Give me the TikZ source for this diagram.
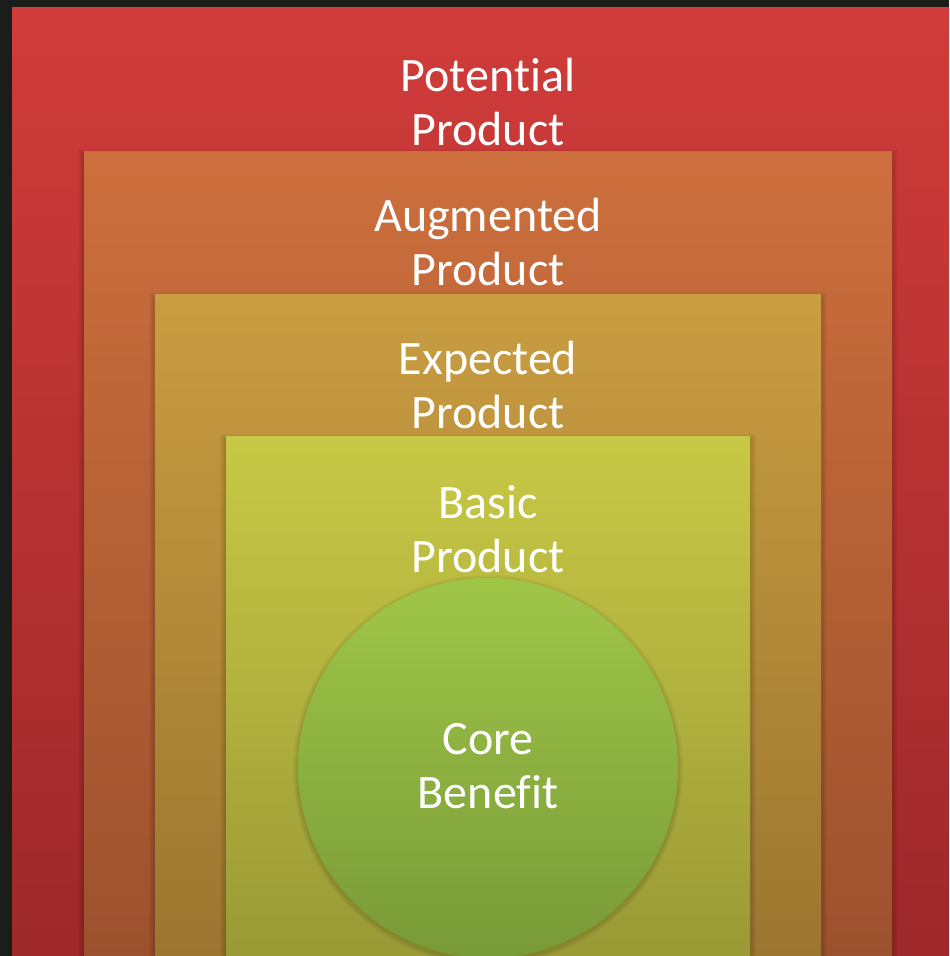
\documentclass[tikz,border=0pt]{standalone}
\usepackage{fontspec}
\setmainfont[Ligatures=NoCommon]{Carlito}
\definecolor{bgdark}{HTML}{1B1D1A}
\definecolor{potTop}{HTML}{D03C3A}
\definecolor{potBot}{HTML}{9E282A}
\definecolor{augTop}{HTML}{CD6F3D}
\definecolor{augBot}{HTML}{9C512E}
\definecolor{expTop}{HTML}{C99D41}
\definecolor{expBot}{HTML}{9C7630}
\definecolor{basTop}{HTML}{C8C846}
\definecolor{basBot}{HTML}{9A9A36}
\definecolor{coreTop}{HTML}{A0C648}
\definecolor{coreBot}{HTML}{789A38}
\tikzset{
  levellabel/.style={text=white, align=center, inner sep=0pt,
    font=\fontsize{36}{40.5}\selectfont},
  softshadow/.style={fill=black, opacity=0.028, draw=none}
}
\begin{document}
\begin{tikzpicture}[x=0.75pt,y=-0.75pt]
  \useasboundingbox (0,0) rectangle (949,956);
  \clip (0,0) rectangle (949,956);
  \fill[bgdark] (0,0) rectangle (949,956);

  % outer layer
  \path[top color=potTop, bottom color=potBot] (12,8) rectangle (949,956);

  % nested layers, each with a soft shadow dropped slightly downwards
  \foreach \s in {1,...,6}
    \fill[softshadow] (84-\s,151-\s+4) rectangle (892+\s,956+\s);
  \path[top color=augTop, bottom color=augBot] (84,151) rectangle (892,956);

  \foreach \s in {1,...,6}
    \fill[softshadow] (155-\s,294-\s+4) rectangle (821+\s,956+\s);
  \path[top color=expTop, bottom color=expBot] (155,294) rectangle (821,956);

  \foreach \s in {1,...,6}
    \fill[softshadow] (226-\s,436-\s+4) rectangle (750+\s,956+\s);
  \path[top color=basTop, bottom color=basBot] (226,436) rectangle (750,956);

  % core circle
  \foreach \s in {1,...,5}
    \fill[softshadow] (488,770) circle[radius=190+\s];
  \path[top color=coreTop, bottom color=coreBot] (488,768) circle[radius=190];

  % labels (base anchor sits on the second line)
  \node[levellabel, anchor=base] (potential) at (488,145) {Potential\\Product};
  \node[levellabel, anchor=base] (augmented) at (488,285) {Augmented\\Product};
  \node[levellabel, anchor=base] (expected) at (488,428) {Expected\\Product};
  \node[levellabel, anchor=base] (basic) at (488,572) {Basic\\Product};
  \node[levellabel, anchor=base] (core) at (488,808) {Core\\Benefit};
\end{tikzpicture}
\end{document}
